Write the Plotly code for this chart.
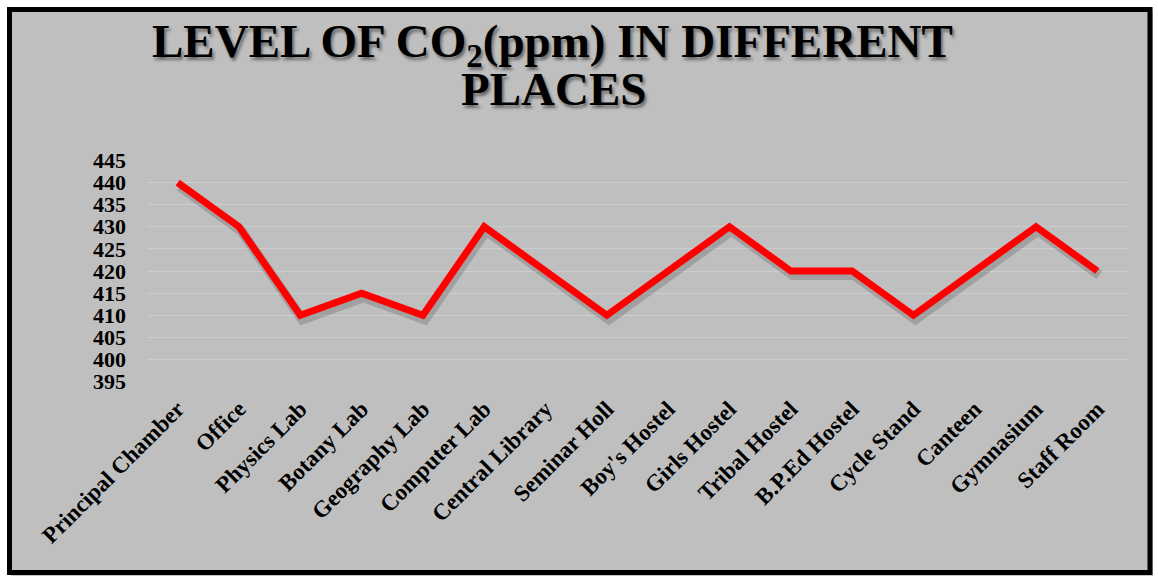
import plotly.graph_objects as go

places = ["Principal Chamber", "Office", "Physics Lab", "Botany Lab", "Geography Lab",
          "Computer Lab", "Central Library", "Seminar Holl", "Boy's Hostel", "Girls Hostel",
          "Tribal Hostel", "B.P.Ed Hostel", "Cycle Stand", "Canteen", "Gymnasium", "Staff Room"]
co2_ppm = [440, 430, 410, 415, 410, 430, 420, 410, 420, 430, 420, 420, 410, 420, 430, 420]
y_ticks = [395, 400, 405, 410, 415, 420, 425, 430, 435, 440, 445]

W, H = 1158, 577
L, R, T, B = 147, 30, 160, 195
pw, ph = W - L - R, H - T - B

def px_x(px):
    return (px - L) / pw

def px_y(py):
    return (H - B - py) / ph

serif = "Liberation Serif"

fig = go.Figure()

# soft drop shadow: same series on the base axes, whose ranges are nudged a few pixels
dx = 2 * 16 / pw
dy = 4 * 50 / ph
fig.add_trace(go.Scatter(x=places, y=co2_ppm, mode="lines", xaxis="x", yaxis="y",
                         line=dict(color="rgba(0,0,0,0.16)", width=10), hoverinfo="skip",
                         showlegend=False))
# main red line on the visible overlay axes
fig.add_trace(go.Scatter(x=places, y=co2_ppm, mode="lines", xaxis="x2", yaxis="y2",
                         line=dict(color="#ff0000", width=7), showlegend=False))

fig.update_layout(
    width=W, height=H,
    margin=dict(l=L, r=R, t=T, b=B),
    paper_bgcolor="white",
    plot_bgcolor="rgba(0,0,0,0)",
    xaxis=dict(type="category", range=[-0.5 - dx, 15.5 - dx], visible=False),
    yaxis=dict(range=[395 + dy, 445 + dy], visible=False),
    xaxis2=dict(type="category", overlaying="x", side="bottom", range=[-0.5, 15.5],
                tickangle=-45, showgrid=False, zeroline=False, showline=False, ticks="",
                ticklabelstandoff=8,
                tickfont=dict(family=serif, size=23, color="black", weight="bold")),
    yaxis2=dict(overlaying="y", side="left", range=[394.9, 445.1], tickvals=y_ticks,
                showgrid=True, gridcolor="#cdcdcd", gridwidth=1, zeroline=False,
                showline=False, ticks="", ticklabelstandoff=20,
                tickfont=dict(family=serif, size=22, color="black", weight="bold")),
    shapes=[
        dict(type="rect", xref="paper", yref="paper", layer="below",
             x0=px_x(11), x1=px_x(1153), y0=px_y(576), y1=px_y(11),
             fillcolor="rgba(0,0,0,0.22)", line=dict(width=0)),
        dict(type="rect", xref="paper", yref="paper", layer="below",
             x0=px_x(9.5), x1=px_x(1150), y0=px_y(572.5), y1=px_y(9.5),
             fillcolor="#bfbfbf", line=dict(color="black", width=5)),
    ],
    annotations=[
        dict(text="LEVEL OF CO<sub>2</sub>(ppm) IN DIFFERENT", xref="paper", yref="paper",
             x=px_x(552), y=px_y(44), xanchor="center", yanchor="middle", showarrow=False,
             font=dict(family=serif, size=47, color="black", weight="bold",
                       shadow="2px 3px 3px rgba(0,0,0,0.45)")),
        dict(text="PLACES", xref="paper", yref="paper",
             x=px_x(553), y=px_y(89), xanchor="center", yanchor="middle", showarrow=False,
             font=dict(family=serif, size=47, color="black", weight="bold",
                       shadow="2px 3px 3px rgba(0,0,0,0.45)")),
    ],
)

fig.write_html("out.html")
